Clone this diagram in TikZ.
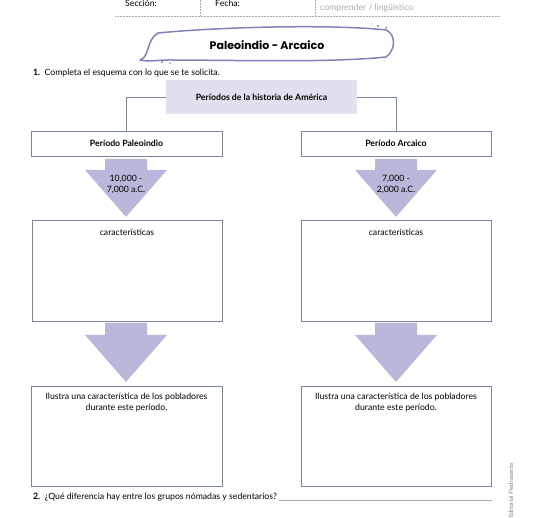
\documentclass[tikz,border=0pt]{standalone}
\usepackage{fontspec}
\setmainfont{Lato}
\newfontfamily\titlefont{Poppins}
\usetikzlibrary{positioning}

\definecolor{boxline}{RGB}{122,132,164}
\definecolor{topfill}{RGB}{224,224,238}
\definecolor{arrowfill}{RGB}{185,184,218}
\definecolor{bannerline}{RGB}{128,130,187}
\definecolor{softgray}{RGB}{170,170,170}

% block arrow pointing down: centre x, top, shoulder, tip
\newcommand\downblock[4]{%
  \fill[arrowfill] (#1-21,#2) -- (#1+21,#2) -- (#1+21,#3) -- (#1+41,#3)
    -- (#1,#4) -- (#1-41,#3) -- (#1-21,#3) -- cycle;}

\begin{document}
\begin{tikzpicture}[x=1pt, y=-1pt,
    txt/.style={font=\fontsize{8.7}{11}\selectfont, inner sep=0pt},
    bold/.style={txt, font=\fontsize{8.7}{11}\selectfont\bfseries},
    frame/.style={draw=boxline, line width=0.9pt, fill=white, inner sep=0pt},
    conn/.style={draw=boxline, line width=0.9pt},
    dotline/.style={draw=softgray, densely dotted, line width=0.5pt}]

    \useasboundingbox (0,0) rectangle (550,518);

    % header strip
    \node[txt, anchor=west] (sec) at (125,3) {Sección:};
    \node[txt, anchor=west] (fec) at (215,3) {Fecha:};
    \node[txt, anchor=west, text=softgray] (comp) at (320,8) {comprender / lingüístico};
    \draw[dotline] (115,16) -- (500,16);
    \draw[dotline] (200,0) -- (200,16);
    \draw[dotline] (315,0) -- (315,16);

    % title banner
    \draw[bannerline, line width=1.5pt, line cap=round]
      (140,60) .. controls (150,57) and (146,40) .. (158,33)
      .. controls (220,27) and (330,24) .. (386,30)
      .. controls (396,34) and (396,50) .. (386,57)
      .. controls (330,63) and (230,60) .. (168,60)
      .. controls (158,60) and (150,62) .. (140,60);
    \fill[bannerline] (378,26) circle (1.2pt) (386,28) circle (1pt)
      (372,24) circle (0.7pt) (162,62) circle (1.1pt) (170,63) circle (0.8pt);
    \node[font=\titlefont\fontsize{11}{13}\selectfont\bfseries] (title) at (267,45) {Paleoindio - Arcaico};

    \node[txt, anchor=west] (q1) at (33,73) {\textbf{1.}\enspace Completa el esquema con lo que se te solicita.};

    % scheme
    \node[bold, fill=topfill, minimum width=191pt, minimum height=34pt] (hist) at (261.5,97) {Períodos de la historia de América};
    \node[frame, bold, minimum width=191pt, minimum height=25pt] (paleo) at (126.5,143.5) {Período Paleoindio};
    \node[frame, bold, minimum width=190pt, minimum height=25pt] (arca) at (396,143.5) {Período Arcaico};

    \draw[conn] (hist.west) -| (paleo.north);
    \draw[conn] (hist.east) -| (arca.north);

    \downblock{126}{159}{170}{217}
    \downblock{396}{159}{170}{217}
    \node[txt, align=center] (dateL) at (126,184) {10,000 -\\7,000 a.C.};
    \node[txt, align=center] (dateR) at (396,184) {7,000 -\\2,000 a.C.};

    \node[frame, minimum width=190pt, minimum height=101pt] (charL) at (127,270.5) {};
    \node[frame, minimum width=190pt, minimum height=101pt] (charR) at (396,270.5) {};
    \node[txt, below=9pt of charL.north] (charLt) {características};
    \node[txt, below=9pt of charR.north] (charRt) {características};

    \downblock{126}{323}{335}{382}
    \downblock{396}{323}{335}{382}

    \node[frame, minimum width=191pt, minimum height=100pt] (illL) at (126.5,436) {};
    \node[frame, minimum width=190pt, minimum height=100pt] (illR) at (396,436) {};
    \node[txt, align=center, below=7pt of illL.north] (illLt) {Ilustra una característica de los pobladores\\durante este período.};
    \node[txt, align=center, below=7pt of illR.north] (illRt) {Ilustra una característica de los pobladores\\durante este período.};

    % question 2
    \node[txt, anchor=base west] (q2) at (33,500) {\textbf{2.}\enspace ¿Qué diferencia hay entre los grupos nómadas y sedentarios?};
    \coordinate (lineEnd) at (492,502);
    \draw[softgray, line width=0.5pt] ([xshift=2pt]q2.base east) -- (q2.base east -| lineEnd);

    \node[txt, font=\fontsize{6}{7}\selectfont, text=gray, rotate=90, anchor=west] (credit) at (511,518) {Editorial Piedrasanta};
\end{tikzpicture}
\end{document}
